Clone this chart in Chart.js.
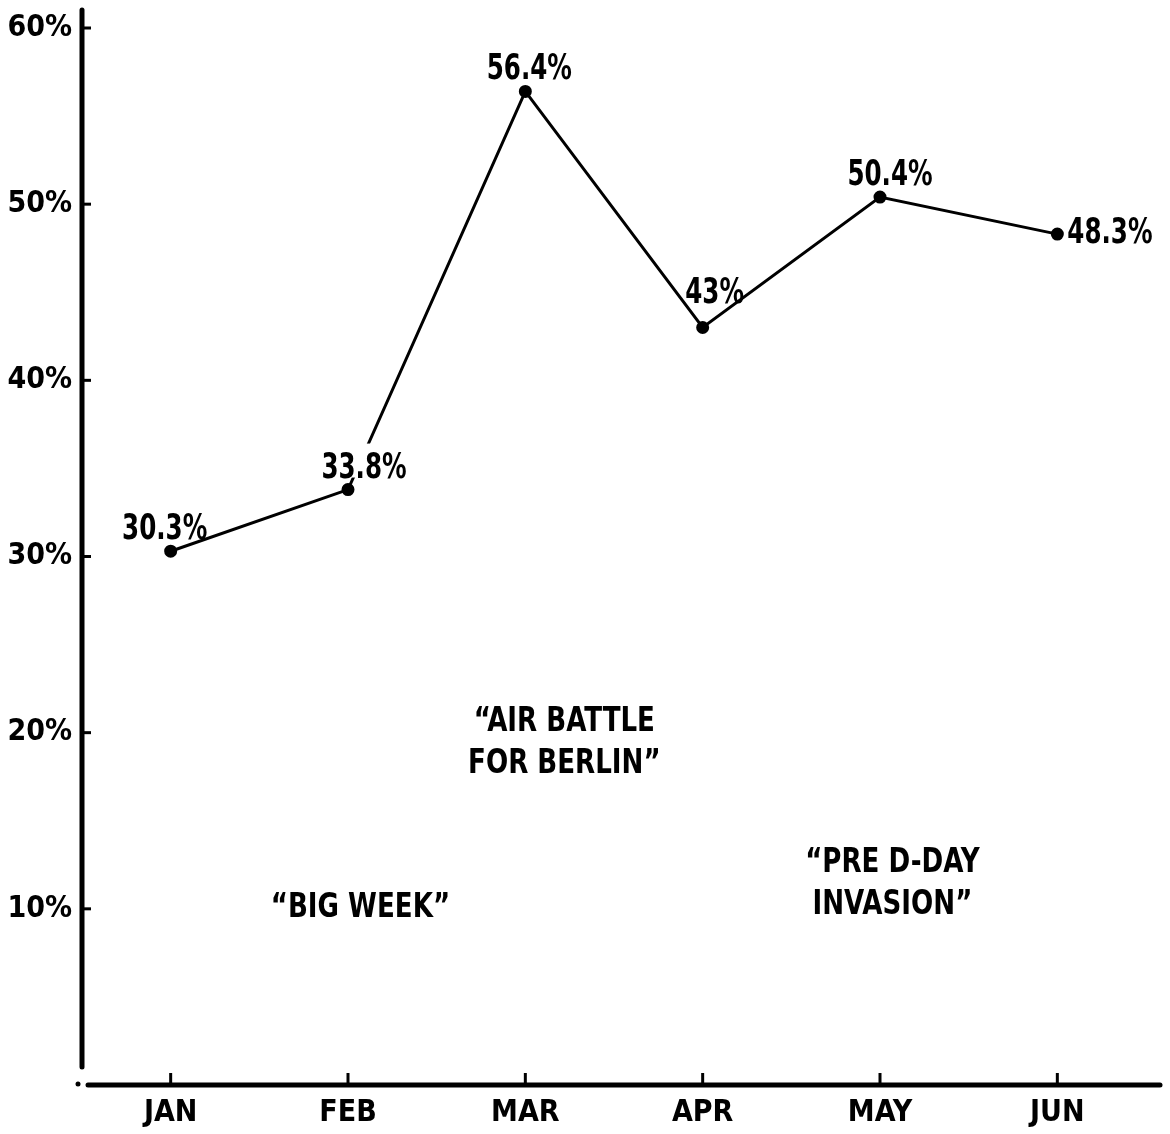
<!DOCTYPE html>
<html>
<head>
<meta charset="utf-8">
<script src="https://cdn.jsdelivr.net/npm/chart.js@4.4.0/dist/chart.umd.min.js"></script>
<style>
  body { margin: 0; background: #fff; }
  #wrap { width: 1170px; height: 1134px; position: relative; }
</style>
</head>
<body>
<div id="wrap"><canvas id="myChart"></canvas></div>
<script>
const months = ['JAN', 'FEB', 'MAR', 'APR', 'MAY', 'JUN'];
const losses = [30.3, 33.8, 56.4, 43, 50.4, 48.3];
const pointLabels = ['30.3%', '33.8%', '56.4%', '43%', '50.4%', '48.3%'];
const yTicks = [0, 10, 20, 30, 40, 50, 60];
const yTickLabels = ['', '10%', '20%', '30%', '40%', '50%', '60%'];
const notes = [
  { text: ['\u201CBIG WEEK\u201D'], x: 1.07, y: 10 },
  { text: ['\u201CAIR BATTLE', 'FOR BERLIN\u201D'], x: 2.22, y: 19.4 },
  { text: ['\u201CPRE D-DAY', 'INVASION\u201D'], x: 4.07, y: 11.4 }
];

const FONT = "'Liberation Sans Narrow', 'DejaVu Sans Condensed', 'Roboto Condensed', sans-serif";
Chart.defaults.font.family = FONT;
Chart.defaults.color = '#000';

// label placement around each point (dx, dy, align, knock the line out?)
const labelPos = [
  { dx: -6, dy: -12, align: 'center', knock: false },
  { dx: 16, dy: -12, align: 'center', knock: true },
  { dx: 4, dy: -12, align: 'center', knock: false },
  { dx: 12, dy: -24, align: 'center', knock: false },
  { dx: 10, dy: -12, align: 'center', knock: false },
  { dx: 10, dy: 0, align: 'left', knock: false }
];

// draw text squeezed horizontally, like a condensed face
function squeezed(ctx, text, x, y, sx, knock) {
  ctx.save();
  ctx.translate(x, y);
  ctx.scale(sx, 1);
  if (knock) {
    const w = ctx.measureText(text).width;
    const left = ctx.textAlign === 'center' ? -w / 2 : (ctx.textAlign === 'left' ? 0 : -w);
    const top = ctx.textBaseline === 'middle' ? -18 : -32;
    ctx.fillStyle = '#fff';
    ctx.fillRect(left - 4, top - 2, w + 18, 34);
    ctx.fillStyle = '#000';
  }
  ctx.fillText(text, 0, 0);
  ctx.restore();
}

const extras = {
  id: 'extras',
  afterDraw(chart) {
    const ctx = chart.ctx;
    const x = chart.scales.x, y = chart.scales.y;
    const area = chart.chartArea;
    ctx.save();
    ctx.strokeStyle = '#000';
    ctx.fillStyle = '#000';
    ctx.lineCap = 'round';
    // axes
    ctx.lineWidth = 5;
    ctx.beginPath();
    ctx.moveTo(area.left, 10);
    ctx.lineTo(area.left, area.bottom - 18);
    ctx.stroke();
    ctx.beginPath();
    ctx.moveTo(area.left + 6, area.bottom);
    ctx.lineTo(1160, area.bottom);
    ctx.stroke();
    ctx.beginPath();
    ctx.arc(area.left - 4, area.bottom - 1, 2.5, 0, Math.PI * 2);
    ctx.fill();
    // tick marks
    ctx.lineWidth = 3;
    ctx.lineCap = 'butt';
    yTicks.forEach(v => {
      if (v === 0) return;
      const py = y.getPixelForValue(v);
      ctx.beginPath();
      ctx.moveTo(area.left, py);
      ctx.lineTo(area.left + 9, py);
      ctx.stroke();
    });
    months.forEach((m, i) => {
      const px = x.getPixelForValue(i);
      ctx.beginPath();
      ctx.moveTo(px, area.bottom);
      ctx.lineTo(px, area.bottom - 12);
      ctx.stroke();
    });
    // point labels
    ctx.font = 'bold 35px ' + FONT;
    const meta = chart.getDatasetMeta(0);
    meta.data.forEach((pt, i) => {
      const p = labelPos[i];
      ctx.textAlign = p.align;
      ctx.textBaseline = p.align === 'left' ? 'middle' : 'alphabetic';
      squeezed(ctx, pointLabels[i], pt.x + p.dx, pt.y + p.dy, 0.78, p.knock);
    });
    // annotations
    ctx.textAlign = 'center';
    ctx.textBaseline = 'middle';
    ctx.font = 'bold 33px ' + FONT;
    notes.forEach(n => {
      const cx = x.getPixelForValue(n.x);
      const cy = y.getPixelForValue(n.y);
      const lh = 42;
      const top = cy - (n.text.length - 1) * lh / 2;
      n.text.forEach((t, k) => squeezed(ctx, t, cx, top + k * lh, 0.88, false));
    });
    ctx.restore();
  }
};

new Chart(document.getElementById('myChart'), {
  type: 'line',
  data: {
    labels: months,
    datasets: [{
      data: losses,
      borderColor: '#000',
      borderWidth: 3,
      pointBackgroundColor: '#000',
      pointBorderColor: '#000',
      pointRadius: 5,
      tension: 0
    }]
  },
  options: {
    maintainAspectRatio: false,
    responsive: true,
    animation: false,
    layout: { padding: { top: 25, right: 24, left: 0, bottom: 0 } },
    plugins: { legend: { display: false }, tooltip: { enabled: false } },
    scales: {
      x: {
        offset: true,
        grid: { display: false, drawTicks: false },
        border: { display: false },
        ticks: { font: { size: 30, weight: 'bold' }, padding: 10 },
        afterFit: s => { s.height = 49; }
      },
      y: {
        min: 0, max: 60,
        afterBuildTicks: s => { s.ticks = yTicks.map(v => ({ value: v })); },
        grid: { display: false, drawTicks: false },
        border: { display: false },
        ticks: {
          font: { size: 30, weight: 'bold' },
          padding: 10,
          callback: v => yTickLabels[yTicks.indexOf(v)]
        },
        afterFit: s => { s.width = 82; }
      }
    }
  },
  plugins: [extras]
});
</script>
</body>
</html>
